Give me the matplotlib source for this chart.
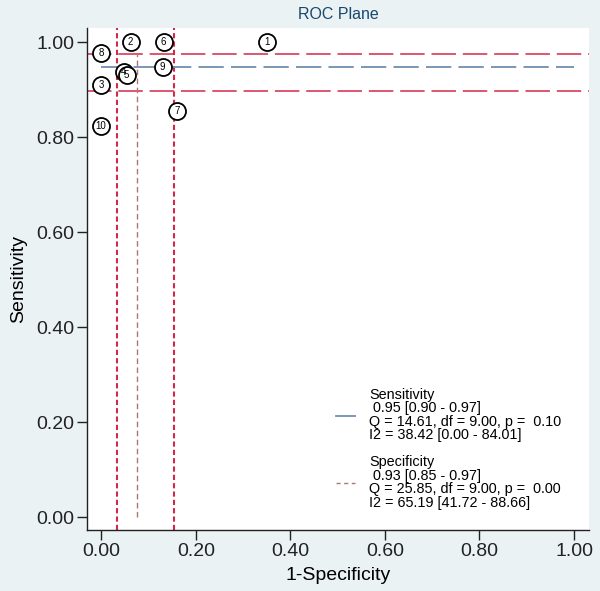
import matplotlib
matplotlib.use("Agg")
import matplotlib.pyplot as plt
from matplotlib.lines import Line2D

plt.rcParams['font.family'] = ['Liberation Sans', 'DejaVu Sans']

# study points (1-specificity, sensitivity)
study_ids = ['1', '2', '3', '4', '5', '6', '7', '8', '9', '10']
fpr = [0.350, 0.062, 0.0, 0.048, 0.054, 0.132, 0.161, 0.0, 0.130, 0.0]
sens = [1.0, 1.0, 0.910, 0.937, 0.931, 1.0, 0.855, 0.978, 0.949, 0.825]

# summary estimates
sens_pooled = 0.949
sens_ci = [0.898, 0.976]
fpr_pooled = 0.075
fpr_ci = [0.034, 0.154]

legend_labels = [
    "Sensitivity\n 0.95 [0.90 - 0.97]\nQ = 14.61, df = 9.00, p =  0.10\nI2 = 38.42 [0.00 - 84.01]",
    "Specificity\n 0.93 [0.85 - 0.97]\nQ = 25.85, df = 9.00, p =  0.00\nI2 = 65.19 [41.72 - 88.66]",
]
ticks = [0.0, 0.2, 0.4, 0.6, 0.8, 1.0]

bg = '#eaf2f3'
red = '#d4284a'
blue = '#6f8fb0'
brown = '#b0776c'

fig = plt.figure(figsize=(6, 5.91), dpi=100, facecolor=bg)
ax = fig.add_axes([0.145, 0.103, 0.837, 0.850])
ax.set_facecolor('white')

ax.set_xlim(-0.030, 1.032)
ax.set_ylim(-0.027, 1.031)

# CI lines
for y in sens_ci:
    ax.plot([-0.030, 1.032], [y, y], color=red, lw=1.1, dashes=(16, 4.5), zorder=2)
for x in fpr_ci:
    ax.plot([x, x], [-0.027, 1.031], color=red, lw=1.5, dashes=(2.5, 1.5), zorder=2)

# pooled lines
ax.plot([0, 1], [sens_pooled, sens_pooled], color=blue, lw=1.3, dashes=(14, 4), zorder=2)
ax.plot([fpr_pooled, fpr_pooled], [0, 0.975], color=brown, lw=1.0, dashes=(4, 2.5), zorder=2)

# study markers
ax.scatter(fpr, sens, s=150, facecolors='white', edgecolors='black', linewidths=1.3, zorder=3)
for sid, x, y in zip(study_ids, fpr, sens):
    ax.text(x, y, sid, fontsize=7, ha='center', va='center', zorder=4)

ax.set_xticks(ticks)
ax.set_yticks(ticks)
ax.set_xticklabels(['%.2f' % t for t in ticks])
ax.set_yticklabels(['%.2f' % t for t in ticks])
ax.tick_params(axis='both', labelsize=14, length=7, width=1, direction='out', pad=2, colors='#222222')

for s in ['top', 'right']:
    ax.spines[s].set_visible(False)
for s in ['left', 'bottom']:
    ax.spines[s].set_color('#222222')
    ax.spines[s].set_linewidth(1)

ax.set_xlabel('1-Specificity', fontsize=14, labelpad=5)
ax.set_ylabel('Sensitivity', fontsize=14, labelpad=7)
ax.set_title('ROC Plane', fontsize=11.5, color='#1a476f', pad=6)

handles = [Line2D([0], [0], color=blue, lw=1.3),
           Line2D([0], [0], color=brown, lw=1.0, dashes=(3, 2.5))]
leg = ax.legend(handles, legend_labels, loc='lower left', bbox_to_anchor=(0.47, 0.015),
                frameon=False, fontsize=10.4, handlelength=1.3, handletextpad=1.0,
                labelspacing=0.9)
for t in leg.get_texts():
    t.set_linespacing(0.95)

fig.savefig('out.png', dpi=100, facecolor=bg)
